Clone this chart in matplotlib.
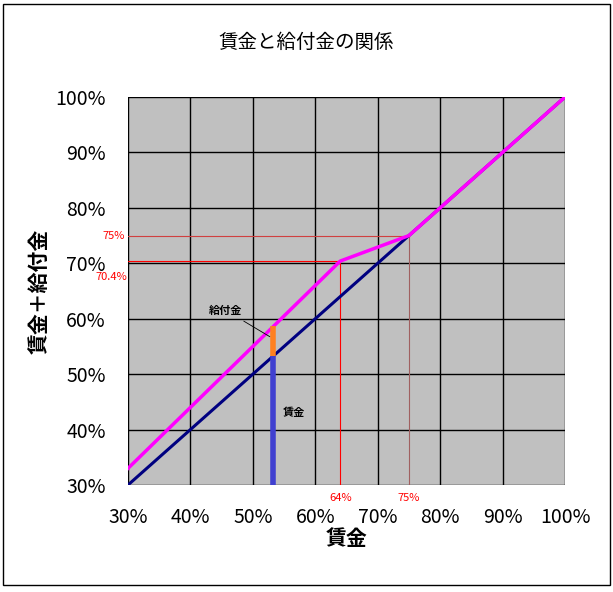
import matplotlib.pyplot as plt
import matplotlib.patches as mpatches
import numpy as np

plt.rcParams['font.family'] = ['Noto Sans CJK JP', 'DejaVu Sans']

# 賃金 / 賃金＋給付金
wage = [0.30, 0.64, 0.75, 1.00]
total = [0.33, 0.704, 0.75, 1.00]
diag = [0.30, 1.00]
bar_x = 0.533
bar_wage = 0.533
bar_total = 0.586
ticks = [0.3, 0.4, 0.5, 0.6, 0.7, 0.8, 0.9, 1.0]
tick_labels = ['30%', '40%', '50%', '60%', '70%', '80%', '90%', '100%']

fig = plt.figure(figsize=(6.13, 5.92), dpi=100)
fig.patches.append(mpatches.Rectangle((0.005, 0.012), 0.99, 0.982, transform=fig.transFigure,
                                      fill=False, edgecolor='black', linewidth=1))
ax = fig.add_axes([128 / 613, 1 - 485 / 592, 437 / 613, 388 / 592])
ax.set_facecolor('#C0C0C0')
ax.set_xlim(0.3, 1.0)
ax.set_ylim(0.3, 1.0)
ax.set_xticks(ticks)
ax.set_yticks(ticks)
ax.set_xticklabels(tick_labels, fontsize=14)
ax.set_yticklabels(tick_labels, fontsize=14)
ax.tick_params(length=0, pad=16)
ax.grid(True, color='black', linewidth=1)
ax.set_axisbelow(True)
for s in ax.spines.values():
    s.set_visible(False)

# guide lines
ax.plot([0.3, 0.64], [0.704, 0.704], color='red', lw=0.8)
ax.plot([0.64, 0.64], [0.3, 0.704], color='red', lw=0.8)
ax.plot([0.3, 0.75], [0.75, 0.75], color='#d04040', lw=0.8)
ax.plot([0.75, 0.75], [0.3, 0.75], color='#a06060', lw=0.8)

ax.plot(diag, diag, color='#000080', lw=2.2)
ax.plot(wage, total, color='#FF00FF', lw=2.5)
ax.plot([bar_x, bar_x], [0.3, bar_wage], color='#4040D0', lw=4, solid_capstyle='butt')
ax.plot([bar_x, bar_x], [bar_wage, bar_total], color='#FF8020', lw=4, solid_capstyle='butt')

ax.annotate('給付金', xy=(bar_x - 0.002, 0.565), xytext=(0.43, 0.615), fontsize=8,
            fontweight='bold', ha='left', va='center',
            arrowprops=dict(arrowstyle='-', color='black', lw=0.6))
ax.text(0.548, 0.43, '賃金', fontsize=8, fontweight='bold', va='center')

ax.text(0.295, 0.75, '75%', color='red', fontsize=8, ha='right', va='center')
ax.text(0.299, 0.675, '70.4%', color='red', fontsize=8, ha='right', va='center')
ax.text(0.64, 0.285, '64%', color='red', fontsize=8, ha='center', va='top')
ax.text(0.75, 0.285, '75%', color='red', fontsize=8, ha='center', va='top')

ax.set_xlabel('賃金', fontsize=15, fontweight='bold', labelpad=0)
ax.set_ylabel('賃金＋給付金', fontsize=15, fontweight='bold', labelpad=4)
fig.text(306 / 613, 1 - 42 / 592, '賃金と給付金の関係', fontsize=14, ha='center', va='center')

fig.savefig('out.png', dpi=100)
